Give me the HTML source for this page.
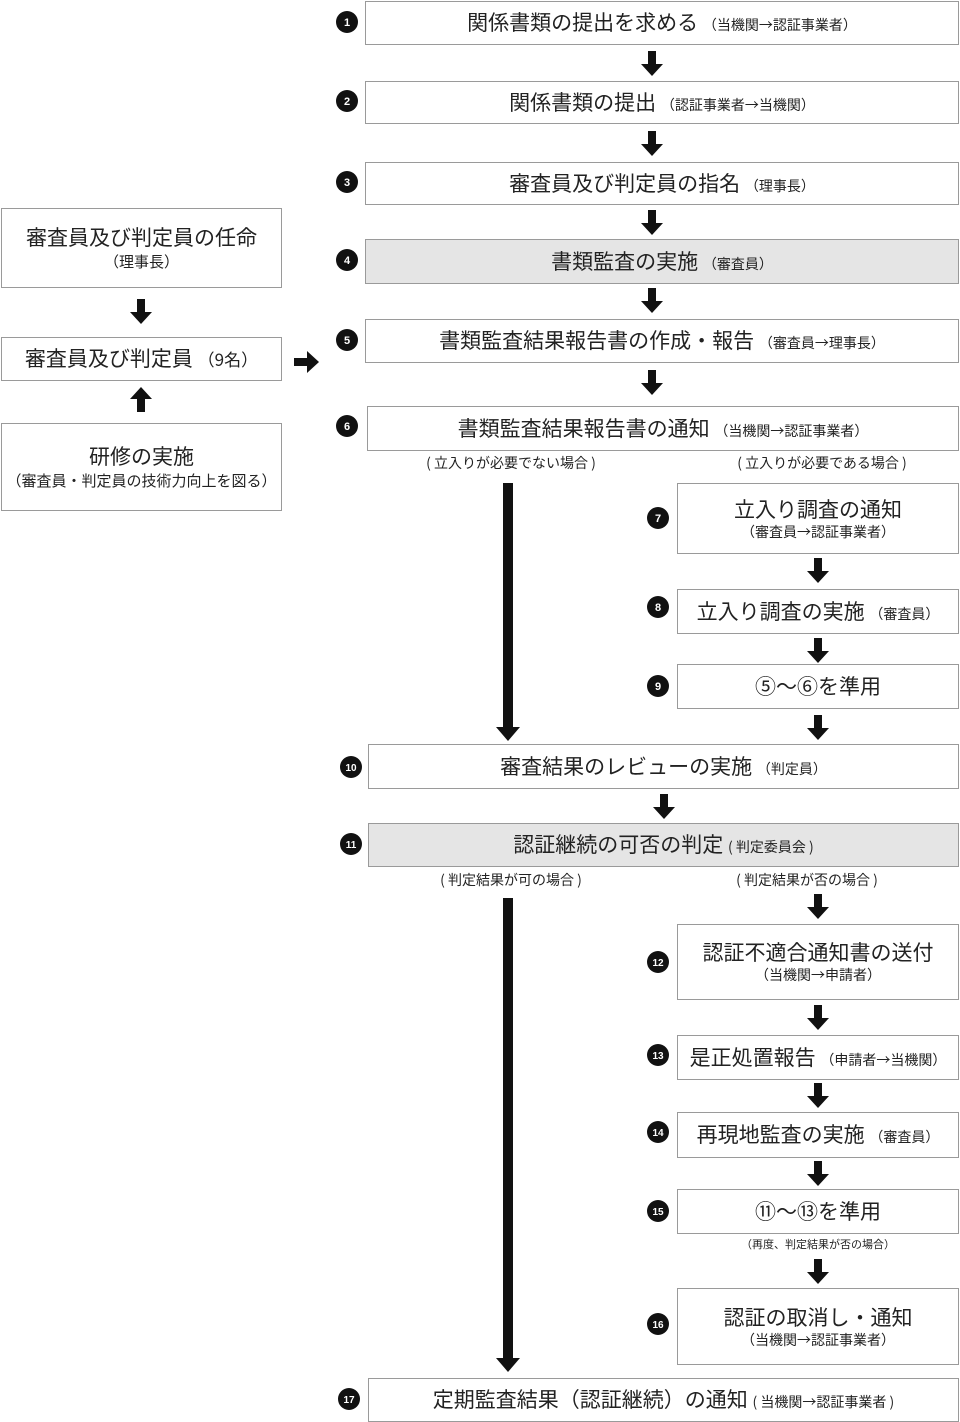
<!DOCTYPE html>
<html><head><meta charset="utf-8"><style>
body{margin:0;width:960px;height:1422px;position:relative;background:#fff;font-family:"Liberation Sans","Noto Sans CJK JP",sans-serif;color:#222;overflow:hidden}
.b{position:absolute;border:1px solid #9a9a9a;box-sizing:border-box;display:flex;flex-direction:column;align-items:center;justify-content:center;font-size:21px;line-height:1.2;text-align:center;white-space:nowrap;background:#fff;font-family:"Noto Sans CJK JP",sans-serif}
.g{background:#e5e5e5}
.s{font-size:14px;font-family:"Noto Sans CJK JP",sans-serif}
.b .l2{font-size:14px;margin-top:2px}
.t{position:absolute;font-size:14px;white-space:nowrap;transform:translateX(-50%);font-family:"Noto Sans CJK JP",sans-serif;line-height:1.2}
svg{position:absolute;left:0;top:0}
</style></head><body>
<div class="b" style="left:365px;top:1px;width:594px;height:44px"><div>関係書類の提出を求める <span class="s">（当機関→認証事業者）</span></div></div>
<div class="b" style="left:365px;top:81px;width:594px;height:43px"><div>関係書類の提出 <span class="s">（認証事業者→当機関）</span></div></div>
<div class="b" style="left:365px;top:162px;width:594px;height:43px"><div>審査員及び判定員の指名 <span class="s">（理事長）</span></div></div>
<div class="b g" style="left:365px;top:239px;width:594px;height:45px"><div>書類監査の実施 <span class="s">（審査員）</span></div></div>
<div class="b" style="left:365px;top:319px;width:594px;height:44px"><div>書類監査結果報告書の作成・報告 <span class="s">（審査員→理事長）</span></div></div>
<div class="b" style="left:367px;top:406px;width:592px;height:45px"><div>書類監査結果報告書の通知 <span class="s">（当機関→認証事業者）</span></div></div>
<div class="b" style="left:677px;top:483px;width:282px;height:71px"><div>立入り調査の通知</div><div class="l2">（審査員→認証事業者）</div></div>
<div class="b" style="left:677px;top:589px;width:282px;height:45px"><div>立入り調査の実施 <span class="s">（審査員）</span></div></div>
<div class="b" style="left:677px;top:664px;width:282px;height:45px"><div>⑤〜⑥を準用</div></div>
<div class="b" style="left:368px;top:744px;width:591px;height:45px"><div>審査結果のレビューの実施 <span class="s">（判定員）</span></div></div>
<div class="b g" style="left:368px;top:823px;width:591px;height:44px"><div>認証継続の可否の判定 <span class="s">( 判定委員会 )</span></div></div>
<div class="b" style="left:677px;top:924px;width:282px;height:76px"><div>認証不適合通知書の送付</div><div class="l2">（当機関→申請者）</div></div>
<div class="b" style="left:677px;top:1035px;width:282px;height:45px"><div>是正処置報告 <span class="s">（申請者→当機関）</span></div></div>
<div class="b" style="left:677px;top:1112px;width:282px;height:46px"><div>再現地監査の実施 <span class="s">（審査員）</span></div></div>
<div class="b" style="left:677px;top:1189px;width:282px;height:45px"><div>⑪〜⑬を準用</div></div>
<div class="b" style="left:677px;top:1288px;width:282px;height:77px"><div>認証の取消し・通知</div><div class="l2">（当機関→認証事業者）</div></div>
<div class="b" style="left:368px;top:1378px;width:591px;height:44px"><div>定期監査結果（認証継続）の通知 <span class="s">( 当機関→認証事業者 )</span></div></div>
<div class="b" style="left:1px;top:208px;width:281px;height:80px"><div>審査員及び判定員の任命</div><div class="l2" style="font-size:15px">（理事長）</div></div>
<div class="b" style="left:1px;top:337px;width:281px;height:44px"><div>審査員及び判定員 <span style="font-size:17px">（9名）</span></div></div>
<div class="b" style="left:1px;top:423px;width:281px;height:88px"><div>研修の実施</div><div class="l2" style="font-size:15px">（審査員・判定員の技術力向上を図る）</div></div>
<div class="t" style="left:511px;top:455px">( 立入りが必要でない場合 )</div>
<div class="t" style="left:822px;top:455px">( 立入りが必要である場合 )</div>
<div class="t" style="left:511px;top:872px">( 判定結果が可の場合 )</div>
<div class="t" style="left:807px;top:872px">( 判定結果が否の場合 )</div>
<div class="t" style="left:818px;top:1238px;font-size:11px">（再度、判定結果が否の場合）</div>
<svg width="960" height="1422" viewBox="0 0 960 1422">
<defs><g id="ar"><rect x="-4" y="0" width="8" height="14" fill="#111"/><polygon points="-11,13 11,13 0,25" fill="#111"/></g></defs>
<use href="#ar" x="652" y="51"/><use href="#ar" x="652" y="131"/><use href="#ar" x="652" y="210"/><use href="#ar" x="652" y="288"/><use href="#ar" x="652" y="370"/><use href="#ar" x="664" y="794"/>
<use href="#ar" x="818" y="558"/><use href="#ar" x="818" y="638"/><use href="#ar" x="818" y="715"/><use href="#ar" x="818" y="894"/><use href="#ar" x="818" y="1005"/><use href="#ar" x="818" y="1083"/><use href="#ar" x="818" y="1161"/><use href="#ar" x="818" y="1259"/>
<use href="#ar" x="141" y="299"/>
<g transform="translate(141,412) scale(1,-1)"><use href="#ar"/></g>
<g transform="translate(294,362) rotate(-90)"><use href="#ar"/></g>
<rect x="503" y="483" width="10" height="246" fill="#111"/><polygon points="496,727 520,727 508,741" fill="#111"/>
<rect x="503" y="898" width="10" height="462" fill="#111"/><polygon points="496,1358 520,1358 508,1372" fill="#111"/>
<g fill="#111">
<circle cx="347" cy="22" r="11"/><circle cx="347" cy="101" r="11"/><circle cx="347" cy="182" r="11"/><circle cx="347" cy="260" r="11"/><circle cx="347" cy="340" r="11"/><circle cx="347" cy="426" r="11"/>
<circle cx="658" cy="518" r="11"/><circle cx="658" cy="607" r="11"/><circle cx="658" cy="686" r="11"/>
<circle cx="351" cy="767" r="11"/><circle cx="351" cy="844" r="11"/>
<circle cx="658" cy="962" r="11"/><circle cx="658" cy="1055" r="11"/><circle cx="658" cy="1132" r="11"/><circle cx="658" cy="1211" r="11"/><circle cx="658" cy="1324" r="11"/><circle cx="349" cy="1399" r="11"/>
</g>
<g fill="#fff" font-size="11" font-weight="bold" text-anchor="middle" font-family="Liberation Sans,sans-serif">
<text x="347" y="26">1</text><text x="347" y="105">2</text><text x="347" y="186">3</text><text x="347" y="264">4</text><text x="347" y="344">5</text><text x="347" y="430">6</text>
<text x="658" y="522">7</text><text x="658" y="611">8</text><text x="658" y="690">9</text>
<text x="351" y="771" font-size="10">10</text><text x="351" y="848" font-size="10">11</text>
<text x="658" y="966" font-size="10">12</text><text x="658" y="1059" font-size="10">13</text><text x="658" y="1136" font-size="10">14</text><text x="658" y="1215" font-size="10">15</text><text x="658" y="1328" font-size="10">16</text><text x="349" y="1403" font-size="10">17</text>
</g>
</svg>
</body></html>
